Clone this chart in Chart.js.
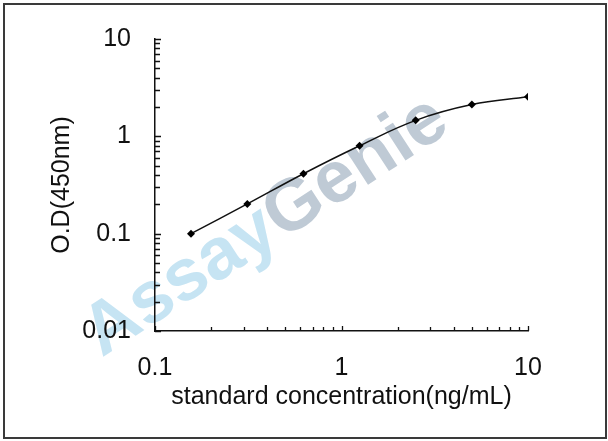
<!DOCTYPE html>
<html>
<head>
<meta charset="utf-8">
<script src="https://cdn.jsdelivr.net/npm/chart.js@4.4.0/dist/chart.umd.min.js"></script>
<style>
html,body{margin:0;padding:0;background:#fff;}
#wrap{width:608px;height:441px;position:relative;}
</style>
</head>
<body>
<div id="wrap"><canvas id="c" width="608" height="441"></canvas></div>
<script>
const concentrations = [0.156, 0.3125, 0.625, 1.25, 2.5, 5, 10];
const odValues = [0.100, 0.202, 0.413, 0.80, 1.46, 2.12, 2.55];
const xTickLabels = ['0.1', '1', '10'];
const yTickLabels = ['0.01', '0.1', '1', '10'];
const xTitle = 'standard concentration(ng/mL)';
const yTitle = 'O.D(450nm)';
const watermarkParts = ['Assay', 'Genie'];

const FONT = "'Liberation Sans', Arial, sans-serif";
const CA = {left:155, right:528, top:36, bottom:331};

const framePlugin = {
  id:'frame',
  beforeDraw(chart){
    const ctx = chart.ctx;
    ctx.save();
    ctx.fillStyle = '#fff';
    ctx.fillRect(0,0,chart.width,chart.height);
    // watermark
    ctx.translate(266, 227);
    ctx.rotate(-33*Math.PI/180);
    ctx.font = "bold 73px " + FONT;
    ctx.textBaseline = 'middle';
    const w1 = ctx.measureText(watermarkParts[0]).width;
    const w2 = ctx.measureText(watermarkParts[1]).width;
    let x0 = -(w1+w2)/2;
    ctx.textAlign = 'left';
    ctx.fillStyle = '#c6e4f3';
    ctx.fillText(watermarkParts[0], x0, 0);
    ctx.fillStyle = '#bfcad5';
    ctx.fillText(watermarkParts[1], x0+w1, 0);
    ctx.restore();
  },
  afterDraw(chart){
    const ctx = chart.ctx;
    const xs = chart.scales.x, ys = chart.scales.y;
    ctx.save();
    ctx.strokeStyle = '#111';
    ctx.lineWidth = 1.3;
    const decadeTicks = (min, max) => {
      const out = [];
      for (let e = Math.round(Math.log10(min)); e < Math.round(Math.log10(max)); e++) {
        for (let m = 1; m <= 9; m++) out.push({v: m*Math.pow(10,e), major: m===1});
      }
      out.push({v:max, major:true});
      return out;
    };
    ctx.beginPath();
    decadeTicks(ys.min, ys.max).forEach(t => {
      const y = Math.round(ys.getPixelForValue(t.v)) + 0.5;
      const L = t.major ? 6 : 5;
      ctx.moveTo(xs.left, y); ctx.lineTo(xs.left + L, y);
    });
    decadeTicks(xs.min, xs.max).forEach(t => {
      const x = Math.round(xs.getPixelForValue(t.v)) + 0.5;
      const L = t.major ? 5 : 4;
      ctx.moveTo(x, ys.bottom); ctx.lineTo(x, ys.bottom - L);
    });
    ctx.stroke();
    ctx.strokeStyle = '#3a3a3a';
    ctx.lineWidth = 2;
    ctx.strokeRect(4, 4, 602, 434);
    ctx.restore();
  }
};

new Chart(document.getElementById('c'), {
  type: 'line',
  data: {
    datasets: [{
      data: concentrations.map((x,i)=>({x:x, y:odValues[i]})),
      borderColor: '#111',
      borderWidth: 1.5,
      backgroundColor: '#000',
      pointStyle: 'rectRot',
      pointRadius: 4,
      pointBorderWidth: 0,
      tension: 0.4,
      fill: false
    }]
  },
  options: {
    responsive: false,
    animation: false,
    devicePixelRatio: 1,
    layout: { padding: { left: 0, right: 608-CA.right, top: CA.top, bottom: 0 } },
    plugins: { legend:{display:false}, tooltip:{enabled:false} },
    scales: {
      x: {
        type: 'logarithmic',
        min: 0.1, max: 10,
        afterBuildTicks(s){ s.ticks = xTickLabels.map(v=>({value:parseFloat(v)})); },
        afterFit(s){ s.height = 441 - CA.bottom; },
        ticks: {
          autoSkip:false, maxRotation:0,
          padding: 22,
          color:'#111',
          font:{family:FONT, size:25},
          callback:(v,i)=>xTickLabels[i]
        },
        grid: { display:true, drawOnChartArea:false, drawTicks:false },
        border: { display:true, color:'#111', width:1.5 },
        title: { display:true, text:xTitle, color:'#111', font:{family:FONT, size:25}, padding:{top:0,bottom:29} }
      },
      y: {
        type: 'logarithmic',
        min: 0.01, max: 10,
        afterBuildTicks(s){ s.ticks = yTickLabels.map(v=>({value:parseFloat(v)})); },
        afterFit(s){ s.width = CA.left; },
        ticks: {
          autoSkip:false,
          padding: 24,
          color:'#111',
          font:{family:FONT, size:25},
          callback:(v,i)=>yTickLabels[i]
        },
        grid: { display:true, drawOnChartArea:false, drawTicks:false },
        border: { display:true, color:'#111', width:1.5 },
        title: { display:true, text:yTitle, color:'#111', font:{family:FONT, size:25}, padding:{top:47,bottom:0} }
      }
    }
  },
  plugins: [framePlugin]
});
</script>
</body>
</html>
